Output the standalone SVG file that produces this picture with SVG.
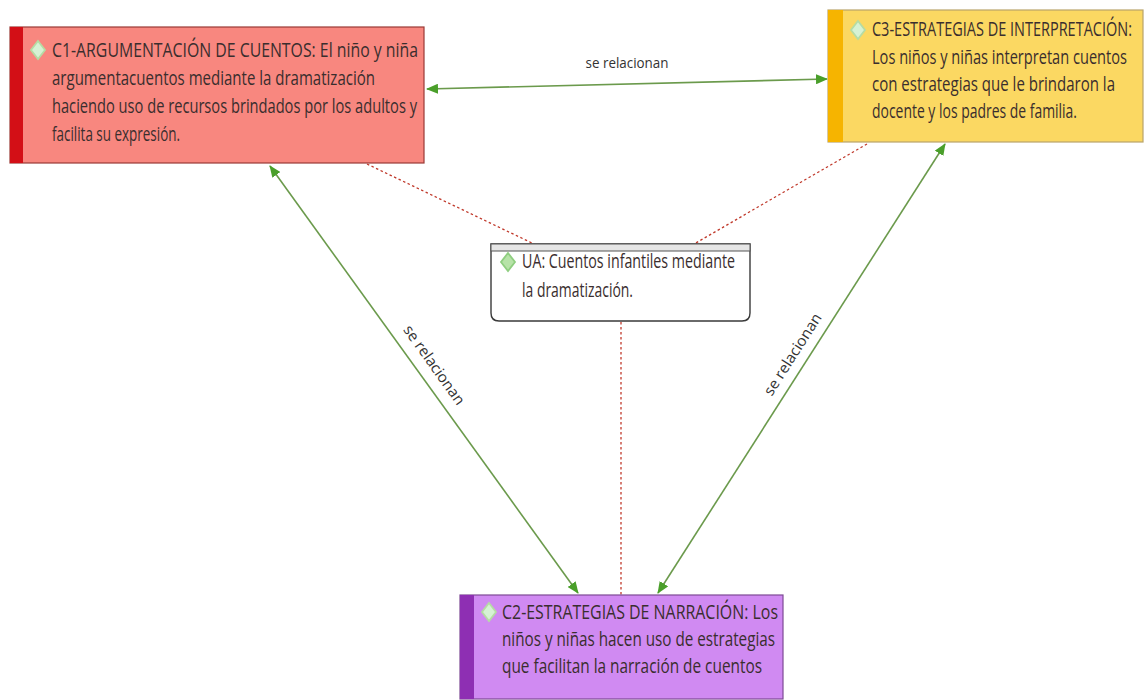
<svg xmlns="http://www.w3.org/2000/svg" width="1144" height="700" viewBox="0 0 1144 700">
<style>
.t{font-family:"Open Sans","Liberation Sans",sans-serif;font-size:20px;fill:#3a2e2e}
.ts{font-family:"Open Sans","Liberation Sans",sans-serif;font-size:14.2px;fill:#3a2e2e}
.lbl{font-family:"Open Sans","Liberation Sans",sans-serif;font-size:15px;fill:#333}
.rel{fill:none;stroke:#6b9a4c;stroke-width:1.6}
.dot{fill:none;stroke:#c0392b;stroke-width:1.3;stroke-dasharray:2.5,2.5}
.dia{fill:#d6f2d4;stroke:#b5dca4;stroke-width:1.8}
</style>
<defs>
<marker id="ah" viewBox="0 0 12 10" refX="11" refY="5" markerWidth="12" markerHeight="10" markerUnits="userSpaceOnUse" orient="auto-start-reverse">
<path d="M0,0 L12,5 L0,10 Z" fill="#4a9f2a"/>
</marker>
</defs>
<rect width="1144" height="700" fill="#ffffff"/>

<g id="connectors">
<line class="dot" x1="367" y1="164" x2="534" y2="244"/>
<line class="dot" x1="867" y1="144" x2="694" y2="244"/>
<line class="dot" x1="621" y1="322" x2="621" y2="595"/>
<line class="rel" x1="427" y1="89" x2="827" y2="79" marker-start="url(#ah)" marker-end="url(#ah)"/>
<line class="rel" x1="270" y1="166" x2="578" y2="593" marker-start="url(#ah)" marker-end="url(#ah)"/>
<line class="rel" x1="945" y1="144" x2="658" y2="593" marker-start="url(#ah)" marker-end="url(#ah)"/>
<text class="lbl" x="627" y="68" text-anchor="middle" textLength="83" lengthAdjust="spacingAndGlyphs">se relacionan</text>
<text class="lbl" transform="translate(430,368) rotate(54.4)" text-anchor="middle" textLength="94" lengthAdjust="spacingAndGlyphs">se relacionan</text>
<text class="lbl" transform="translate(797,357) rotate(-57.6)" text-anchor="middle" textLength="94" lengthAdjust="spacingAndGlyphs">se relacionan</text>
</g>

<g id="c1">
<rect x="10" y="27" width="414" height="136" fill="#f8877f" stroke="#9a3a36" stroke-width="1.2"/>
<rect x="10" y="27" width="13" height="136" fill="#d30f16"/>
<path class="dia" d="M38,41 L45,50 L38,59 L31,50 Z"/>
<text class="t" x="52" y="57" textLength="366" lengthAdjust="spacingAndGlyphs">C1-ARGUMENTACIÓN DE CUENTOS: El niño y niña</text>
<text class="t" x="52" y="85" textLength="323" lengthAdjust="spacingAndGlyphs">argumentacuentos mediante la dramatización</text>
<text class="t" x="52" y="113" textLength="365" lengthAdjust="spacingAndGlyphs">haciendo uso de recursos brindados por los adultos y</text>
<text class="t" x="52" y="141" textLength="128" lengthAdjust="spacingAndGlyphs">facilita su expresión.</text>
</g>

<g id="c3">
<rect x="828" y="10" width="315" height="132" fill="#fbd862" stroke="#b9a46a" stroke-width="1.2"/>
<rect x="828" y="10" width="15" height="132" fill="#f6b400"/>
<path class="dia" d="M858,21 L865,30 L858,39 L851,30 Z"/>
<g transform="scale(1,1.4)">
<text class="ts" x="872" y="25.71" textLength="260" lengthAdjust="spacingAndGlyphs">C3-ESTRATEGIAS DE INTERPRETACIÓN:</text>
<text class="ts" x="872" y="45.71" textLength="255" lengthAdjust="spacingAndGlyphs">Los niños y niñas interpretan cuentos</text>
<text class="ts" x="872" y="65" textLength="243" lengthAdjust="spacingAndGlyphs">con estrategias que le brindaron la</text>
<text class="ts" x="872" y="84.29" textLength="205" lengthAdjust="spacingAndGlyphs">docente y los padres de familia.</text>
</g>
</g>

<g id="ua">
<path d="M491,244 H750 V313 Q750,321 742,321 H499 Q491,321 491,313 Z" fill="#ffffff" stroke="#3a3a3a" stroke-width="1.4"/>
<rect x="491" y="244" width="259" height="7" fill="#e6e6e6" stroke="#555" stroke-width="1"/>
<path d="M508,253 L515,262 L508,271 L501,262 Z" fill="#b7e3a8" stroke="#8fce80" stroke-width="1.8"/>
<text class="t" x="522" y="268" textLength="213" lengthAdjust="spacingAndGlyphs">UA: Cuentos infantiles mediante</text>
<text class="t" x="522" y="297" textLength="111" lengthAdjust="spacingAndGlyphs">la dramatización.</text>
</g>

<g id="c2">
<rect x="460" y="595" width="323" height="104" fill="#d08af2" stroke="#7d4a94" stroke-width="1.2"/>
<rect x="460" y="595" width="14" height="104" fill="#8e2fb3"/>
<path class="dia" d="M489,603 L496,612 L489,621 L482,612 Z"/>
<text class="t" x="502" y="619" textLength="276" lengthAdjust="spacingAndGlyphs">C2-ESTRATEGIAS DE NARRACIÓN: Los</text>
<text class="t" x="502" y="646" textLength="273" lengthAdjust="spacingAndGlyphs">niños y niñas hacen uso de estrategias</text>
<text class="t" x="502" y="673" textLength="260" lengthAdjust="spacingAndGlyphs">que facilitan la narración de cuentos</text>
</g>
</svg>
